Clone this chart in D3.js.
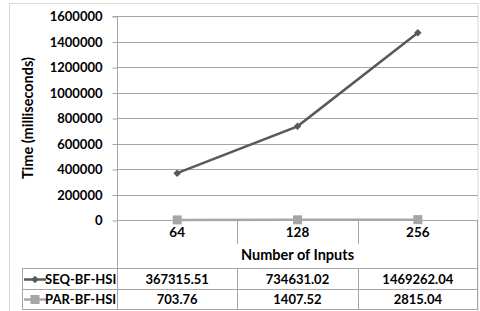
<!DOCTYPE html>
<html>
<head>
<meta charset="utf-8">
<script src="https://cdn.jsdelivr.net/npm/d3@7"></script>
<style>
  body { margin: 0; background: #fff; }
  text { font-family: Lato, "Open Sans", sans-serif; font-weight: bold; fill: #000; }
  .title { font-size: 14.5px; }
</style>
</head>
<body>
<div id="chart"></div>
<script>
// data
const categories = ['64', '128', '256'];
const seqValues = [367315.51, 734631.02, 1469262.04];
const parValues = [703.76, 1407.52, 2815.04];
const seriesNames = ['SEQ-BF-HSI', 'PAR-BF-HSI'];
const yTickValues = [0, 200000, 400000, 600000, 800000, 1000000, 1200000, 1400000, 1600000];

const width = 480, height = 311;
const plotLeft = 117, plotRight = 478, plotTop = 16, plotBottom = 220;
const rowLine1 = 268, rowLine2 = 289, rowLine3 = 309;
const gridColor = '#a6a6a6';

const svg = d3.select('#chart').append('svg')
  .attr('width', width)
  .attr('height', height)
  .style('font-size', '13px');

// outer frame
svg.append('rect')
  .attr('x', 9.5).attr('y', 3.5)
  .attr('width', 468.5).attr('height', 320)
  .attr('fill', 'none')
  .attr('stroke', '#d9d9d9');

const x = d3.scaleBand().domain(categories).range([plotLeft, plotRight]);
const y = d3.scaleLinear().domain([0, 1600000]).range([plotBottom, plotTop]);

// gridlines
svg.append('g')
  .selectAll('line')
  .data(yTickValues.filter(d => d > 0))
  .join('line')
  .attr('x1', plotLeft).attr('x2', plotRight)
  .attr('y1', d => Math.round(y(d)) + 0.5)
  .attr('y2', d => Math.round(y(d)) + 0.5)
  .attr('stroke', gridColor);

// y axis
const yAxis = svg.append('g')
  .attr('transform', `translate(${plotLeft + 0.5},0.5)`)
  .call(d3.axisLeft(y).tickValues(yTickValues).tickSize(5).tickPadding(10).tickFormat(d3.format('d')));
yAxis.select('.domain').attr('stroke', gridColor).attr('d', `M-5,${plotTop}H0V${rowLine3}`);
yAxis.selectAll('.tick line').attr('stroke', gridColor);
yAxis.selectAll('.tick text').style('font-size', '13px').style('font-family', 'Lato, sans-serif');

// axis title
svg.append('text')
  .attr('class', 'title')
  .attr('transform', `translate(33,${(plotTop + plotBottom) / 2}) rotate(-90)`)
  .attr('text-anchor', 'middle')
  .text('Time (milliseconds)');

// data table lines
const tbl = svg.append('g').attr('stroke', gridColor).attr('fill', 'none');
tbl.append('line').attr('x1', plotLeft).attr('x2', plotRight).attr('y1', plotBottom + 0.5).attr('y2', plotBottom + 0.5);
[rowLine1, rowLine2, rowLine3].forEach(r => {
  tbl.append('line').attr('x1', 22).attr('x2', plotRight).attr('y1', r + 0.5).attr('y2', r + 0.5);
});
tbl.append('line').attr('x1', 22.5).attr('x2', 22.5).attr('y1', rowLine1).attr('y2', rowLine3);
tbl.append('line').attr('x1', plotRight - 0.5).attr('x2', plotRight - 0.5).attr('y1', plotBottom).attr('y2', rowLine3);
categories.slice(1).forEach(c => {
  const xx = Math.round(x(c)) + 0.5;
  tbl.append('line').attr('x1', xx).attr('x2', xx).attr('y1', plotBottom).attr('y2', 244);
  tbl.append('line').attr('x1', xx).attr('x2', xx).attr('y1', rowLine1).attr('y2', rowLine3);
});

// category labels + axis title
svg.append('g').selectAll('text')
  .data(categories)
  .join('text')
  .attr('x', d => x(d) + x.bandwidth() / 2)
  .attr('y', 237)
  .attr('text-anchor', 'middle')
  .style('font-size', '13.5px')
  .text(d => d);

svg.append('text')
  .attr('class', 'title')
  .attr('x', x('128') + x.bandwidth() / 2)
  .attr('y', 260)
  .attr('text-anchor', 'middle')
  .text('Number of Inputs');

// series lines
const line = d3.line()
  .x((d, i) => x(categories[i]) + x.bandwidth() / 2)
  .y(d => y(d));

svg.append('path')
  .datum(parValues)
  .attr('d', line)
  .attr('fill', 'none')
  .attr('stroke', '#a6a6a6')
  .attr('stroke-width', 2.5);

svg.append('path')
  .datum(seqValues)
  .attr('d', line)
  .attr('fill', 'none')
  .attr('stroke', '#595959')
  .attr('stroke-width', 2.5);

const diamond = d3.symbol().type(d3.symbolDiamond2).size(36);
const square = d3.symbol().type(d3.symbolSquare).size(81);

svg.append('g').selectAll('path')
  .data(seqValues)
  .join('path')
  .attr('d', diamond)
  .attr('transform', (d, i) => `translate(${x(categories[i]) + x.bandwidth() / 2},${y(d)})`)
  .attr('fill', '#595959');

svg.append('g').selectAll('path')
  .data(parValues)
  .join('path')
  .attr('d', square)
  .attr('transform', (d, i) => `translate(${x(categories[i]) + x.bandwidth() / 2},${y(d)})`)
  .attr('fill', '#a6a6a6');

// table rows
const rows = [seqValues, parValues];
const rowY = [284, 304];
const rowColor = ['#595959', '#a6a6a6'];
rows.forEach((vals, r) => {
  const g = svg.append('g');
  g.append('line')
    .attr('x1', 24).attr('x2', 46)
    .attr('y1', rowY[r] - 4.5).attr('y2', rowY[r] - 4.5)
    .attr('stroke', rowColor[r]).attr('stroke-width', 2.5);
  g.append('path')
    .attr('d', r === 0 ? diamond : square)
    .attr('transform', `translate(35,${rowY[r] - 4.5})`)
    .attr('fill', rowColor[r]);
  g.append('text')
    .attr('x', 45)
    .attr('y', rowY[r])
    .text(seriesNames[r]);
  g.selectAll('text.v')
    .data(vals)
    .join('text')
    .attr('class', 'v')
    .attr('x', (d, i) => x(categories[i]) + x.bandwidth() / 2)
    .attr('y', rowY[r])
    .attr('text-anchor', 'middle')
    .text(d => d.toFixed(2));
});
</script>
</body>
</html>
